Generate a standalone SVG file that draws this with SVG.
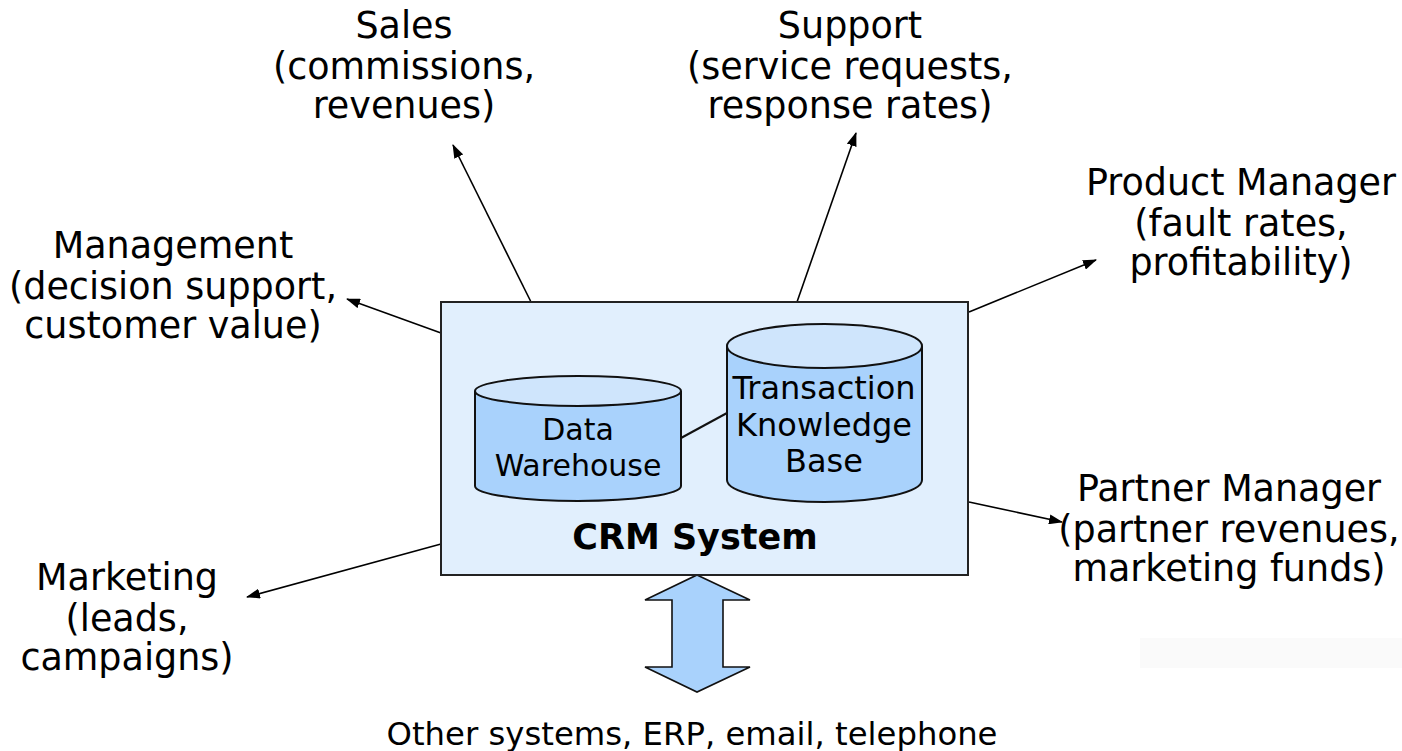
<svg xmlns="http://www.w3.org/2000/svg" width="1402" height="751" viewBox="0 0 1402 751">
  <defs>
    <marker id="head" viewBox="0 0 14 10" refX="13" refY="5" markerWidth="14" markerHeight="10" markerUnits="userSpaceOnUse" orient="auto">
      <path d="M0,0 L14,5 L0,10 z" fill="#000"/>
    </marker>
    <style>
      .lbl { font-family: "DejaVu Sans", Verdana, sans-serif; font-size: 36.5px; fill: #000; text-anchor: middle; }
      .inner { font-family: "DejaVu Sans", Verdana, sans-serif; font-size: 32px; fill: #000; text-anchor: middle; }
      .title { font-family: "DejaVu Sans", Verdana, sans-serif; font-size: 35px; font-weight: bold; fill: #000; text-anchor: middle; }
      .link { stroke: #000; stroke-width: 1.6; fill: none; marker-end: url(#head); }
      .cyl-body { fill: #a9d2fc; stroke: #111; stroke-width: 2; }
      .cyl-top { fill: #cfe5fc; stroke: #111; stroke-width: 2; }
    </style>
  </defs>

  <rect width="1402" height="751" fill="#fff"/>
  <rect x="1140" y="638" width="262" height="30" fill="#fafafa"/>

  <!-- outgoing information flows -->
  <g id="connectors">
    <line class="link" x1="531" y1="302" x2="453" y2="145"/>
    <line class="link" x1="797" y1="302" x2="856" y2="133"/>
    <line class="link" x1="969" y1="312" x2="1096" y2="260"/>
    <line class="link" x1="441" y1="333" x2="347" y2="299"/>
    <line class="link" x1="969" y1="502" x2="1062" y2="522"/>
    <line class="link" x1="441" y1="544" x2="247" y2="597"/>
    <!-- two-way exchange with other systems -->
    <path d="M697,575 L750,600 L723,600 L723,667 L750,667 L697,692 L645,667 L672,667 L672,600 L645,600 Z" fill="#a9d2fc" stroke="#111" stroke-width="1.6"/>
  </g>

  <g id="crm">
    <rect x="441" y="302" width="527" height="273" fill="#e1effd" stroke="#222" stroke-width="2"/>
    <text class="title" x="695" y="549">CRM System</text>
  </g>

  <g id="data-warehouse">
    <path class="cyl-body" d="M475,391 L475,486 A103,15 0 0 0 681,486 L681,391"/>
    <ellipse class="cyl-top" cx="578" cy="391" rx="103" ry="15"/>
    <text class="inner" x="578" y="440" style="font-size:30px">Data</text>
    <text class="inner" x="578" y="476" style="font-size:30px">Warehouse</text>
  </g>

  <line x1="681" y1="438" x2="727" y2="413" stroke="#111" stroke-width="2"/>

  <g id="knowledge-base">
    <path class="cyl-body" d="M727,346 L727,480 A97.5,22 0 0 0 922,480 L922,346"/>
    <ellipse class="cyl-top" cx="824.5" cy="346" rx="97.5" ry="22"/>
    <text class="inner" x="824" y="399">Transaction</text>
    <text class="inner" x="824" y="436">Knowledge</text>
    <text class="inner" x="824" y="472">Base</text>
  </g>

  <g id="sales">
    <text class="lbl" x="404" y="38">Sales</text>
    <text class="lbl" x="404" y="79">(commissions,</text>
    <text class="lbl" x="404" y="118">revenues)</text>
  </g>

  <g id="support">
    <text class="lbl" x="850" y="38">Support</text>
    <text class="lbl" x="850" y="79">(service requests,</text>
    <text class="lbl" x="850" y="118">response rates)</text>
  </g>

  <g id="product-manager">
    <text class="lbl" x="1241" y="195">Product Manager</text>
    <text class="lbl" x="1241" y="236">(fault rates,</text>
    <text class="lbl" x="1241" y="275">profitability)</text>
  </g>

  <g id="management">
    <text class="lbl" x="173" y="258">Management</text>
    <text class="lbl" x="173" y="299">(decision support,</text>
    <text class="lbl" x="173" y="338">customer value)</text>
  </g>

  <g id="partner-manager">
    <text class="lbl" x="1229" y="501">Partner Manager</text>
    <text class="lbl" x="1229" y="542">(partner revenues,</text>
    <text class="lbl" x="1229" y="581">marketing funds)</text>
  </g>

  <g id="marketing">
    <text class="lbl" x="127" y="590">Marketing</text>
    <text class="lbl" x="127" y="631">(leads,</text>
    <text class="lbl" x="127" y="670">campaigns)</text>
  </g>

  <g id="other-systems">
    <text class="lbl" x="692" y="745" style="font-size:32.3px">Other systems, ERP, email, telephone</text>
  </g>
</svg>
